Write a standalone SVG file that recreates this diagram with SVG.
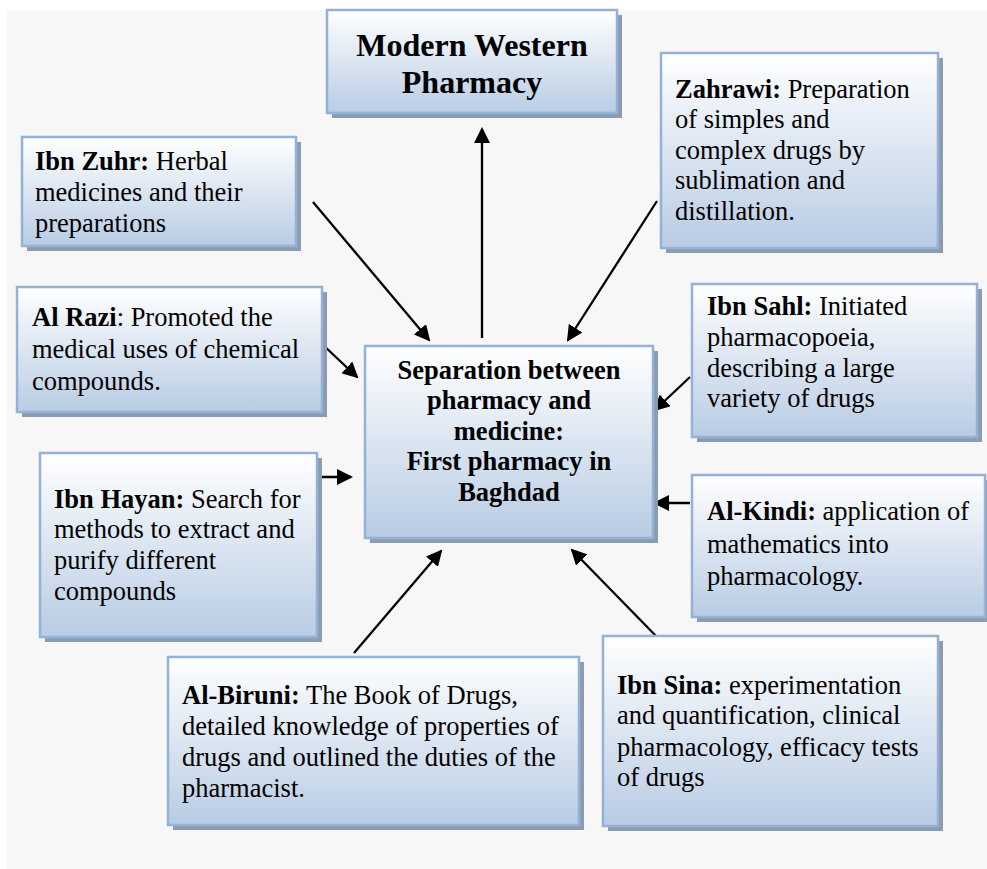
<svg xmlns="http://www.w3.org/2000/svg" width="987" height="869" viewBox="0 0 987 869">
<style>
.bg{fill:#f7f7f7}
.sh{fill:#8d9bb0}
.box{fill:url(#grad);stroke:#94b1d6;stroke-width:2.5}
.t{font-family:"Liberation Serif","Times New Roman",serif;font-size:26.5px;fill:#000}
.b{font-weight:bold}
.c{text-anchor:middle}
.title{font-size:32px}
.con{stroke:#000;stroke-width:2.3;fill:none;marker-end:url(#ah)}
</style>
<defs>
<linearGradient id="grad" x1="0" y1="0" x2="0" y2="1">
<stop offset="0" stop-color="#ffffff"/>
<stop offset="1" stop-color="#b8cce4"/>
</linearGradient>
<marker id="ah" viewBox="0 0 16 16" markerWidth="16" markerHeight="16" refX="14" refY="8" orient="auto" markerUnits="userSpaceOnUse">
<path d="M0,0 L16,8 L0,16 z" fill="#000"/>
</marker>
</defs>
<rect class="bg" x="7" y="10" width="980" height="859"/>

<g id="connectors">
<line class="con" x1="482" y1="338" x2="482" y2="129"/>
<line class="con" x1="313" y1="202" x2="429" y2="340"/>
<line class="con" x1="657" y1="201" x2="568" y2="340"/>
<line class="con" x1="322" y1="344" x2="357" y2="377"/>
<line class="con" x1="318" y1="477" x2="351" y2="477"/>
<line class="con" x1="690" y1="377" x2="655" y2="410"/>
<line class="con" x1="690" y1="503" x2="655" y2="503"/>
<line class="con" x1="354" y1="653" x2="441" y2="551"/>
<line class="con" x1="656" y1="636" x2="572" y2="550"/>
</g>

<g id="modern-western">
<rect class="sh" x="332" y="15" width="290" height="103"/>
<rect class="box" x="327" y="10" width="290" height="103"/>
<text class="t b c title" x="472" y="56">Modern Western</text>
<text class="t b c title" x="472" y="93">Pharmacy</text>
</g>

<g id="zahrawi">
<rect class="sh" x="666" y="58" width="277" height="195"/>
<rect class="box" x="661" y="53" width="277" height="195"/>
<text class="t" x="675" y="98"><tspan class="b">Zahrawi:</tspan> Preparation</text>
<text class="t" x="675" y="128">of simples and</text>
<text class="t" x="675" y="159">complex drugs by</text>
<text class="t" x="675" y="189">sublimation and</text>
<text class="t" x="675" y="220">distillation.</text>
</g>

<g id="ibn-zuhr">
<rect class="sh" x="27" y="142" width="274" height="109"/>
<rect class="box" x="22" y="137" width="274" height="109"/>
<text class="t" x="35" y="170"><tspan class="b">Ibn Zuhr:</tspan> Herbal</text>
<text class="t" x="35" y="201">medicines and their</text>
<text class="t" x="35" y="232">preparations</text>
</g>

<g id="al-razi">
<rect class="sh" x="22" y="292" width="305" height="125"/>
<rect class="box" x="17" y="287" width="305" height="125"/>
<text class="t" x="32" y="326"><tspan class="b">Al Razi</tspan>: Promoted the</text>
<text class="t" x="32" y="358">medical uses of chemical</text>
<text class="t" x="32" y="390">compounds.</text>
</g>

<g id="ibn-hayan">
<rect class="sh" x="45" y="458" width="277" height="184"/>
<rect class="box" x="40" y="453" width="277" height="184"/>
<text class="t" x="54" y="508"><tspan class="b">Ibn Hayan:</tspan> Search for</text>
<text class="t" x="54" y="538">methods to extract and</text>
<text class="t" x="54" y="569">purify different</text>
<text class="t" x="54" y="600">compounds</text>
</g>

<g id="ibn-sahl">
<rect class="sh" x="697" y="289" width="285" height="153"/>
<rect class="box" x="692" y="284" width="285" height="153"/>
<text class="t" x="707" y="315"><tspan class="b">Ibn Sahl:</tspan> Initiated</text>
<text class="t" x="707" y="346">pharmacopoeia,</text>
<text class="t" x="707" y="377">describing a large</text>
<text class="t" x="707" y="407">variety of drugs</text>
</g>

<g id="al-kindi">
<rect class="sh" x="697" y="480" width="293" height="142"/>
<rect class="box" x="692" y="475" width="293" height="142"/>
<text class="t" x="707" y="520"><tspan class="b">Al-Kindi:</tspan> application of</text>
<text class="t" x="707" y="553">mathematics into</text>
<text class="t" x="707" y="585">pharmacology.</text>
</g>

<g id="ibn-sina">
<rect class="sh" x="608" y="641" width="335" height="190"/>
<rect class="box" x="603" y="636" width="335" height="190"/>
<text class="t" x="617" y="694"><tspan class="b">Ibn Sina:</tspan> experimentation</text>
<text class="t" x="617" y="724">and quantification, clinical</text>
<text class="t" x="617" y="756">pharmacology, efficacy tests</text>
<text class="t" x="617" y="786">of drugs</text>
</g>

<g id="al-biruni">
<rect class="sh" x="173" y="662" width="411" height="168"/>
<rect class="box" x="168" y="657" width="411" height="168"/>
<text class="t" x="182" y="704"><tspan class="b">Al-Biruni:</tspan> The Book of Drugs,</text>
<text class="t" x="182" y="735">detailed knowledge of properties of</text>
<text class="t" x="182" y="766">drugs and outlined the duties of the</text>
<text class="t" x="182" y="797">pharmacist.</text>
</g>

<g id="center">
<rect class="sh" x="370" y="351" width="288" height="192"/>
<rect class="box" x="365" y="346" width="288" height="192"/>
<text class="t b c" x="509" y="379">Separation between</text>
<text class="t b c" x="509" y="409">pharmacy and</text>
<text class="t b c" x="509" y="440">medicine:</text>
<text class="t b c" x="509" y="470">First pharmacy in</text>
<text class="t b c" x="509" y="501">Baghdad</text>
</g>
</svg>
